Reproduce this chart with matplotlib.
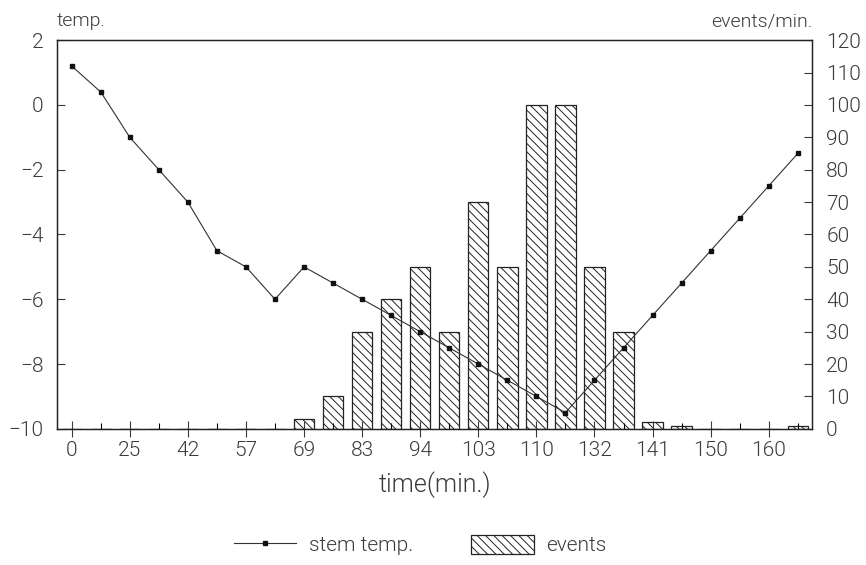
import matplotlib
matplotlib.use("Agg")
import matplotlib.pyplot as plt
import numpy as np

# x positions are evenly spaced sample steps, only every other one is labelled
tick_labels = ['0', '25', '42', '57', '69', '83', '94', '103', '110', '132', '141', '150', '160']

stem_temp = [1.2, 0.4, -1, -2, -3, -4.5, -5, -6, -5, -5.5, -6, -6.5, -7,
             -7.5, -8, -8.5, -9, -9.5, -8.5, -7.5, -6.5, -5.5, -4.5, -3.5, -2.5, -1.5]

events = [0, 0, 0, 0, 0, 0, 0, 0, 3, 10, 30, 40, 50,
          30, 70, 50, 100, 100, 50, 30, 2, 1, 0, 0, 0, 1]

plt.rcParams['font.family'] = ['Roboto', 'DejaVu Sans']
plt.rcParams['font.weight'] = 300
plt.rcParams['axes.labelweight'] = 300
plt.rcParams['hatch.linewidth'] = 0.7
txt = '#3a3a3a'

fig = plt.figure(figsize=(8.66, 5.65), dpi=100)
ax = fig.add_axes([0.066, 0.241, 0.872, 0.688])
ax2 = ax.twinx()

x = np.arange(len(stem_temp))

bars = ax2.bar(x, events, width=0.7, facecolor='white', edgecolor='#222222',
               linewidth=0.9, hatch='\\\\\\\\', label='events')
line, = ax.plot(x, stem_temp, color='#333333', linewidth=0.8, marker='s',
                markersize=2.5, markerfacecolor='#111111', markeredgecolor='#111111',
                label='stem temp.')

ax.set_zorder(ax2.get_zorder() + 1)
ax.patch.set_visible(False)

ax.set_xlim(-0.5, 25.5)
ax.set_ylim(-10, 2)
ax2.set_ylim(0, 120)

ax.set_xticks(x[::2])
ax.set_xticklabels(tick_labels)
ax.set_xticks(x[1::2], minor=True)
ax.tick_params(axis='x', which='major', direction='inout', length=12, width=0.8,
               labelsize=15, colors=txt, pad=3)
ax.tick_params(axis='x', which='minor', direction='in', length=4.5, width=0.8)

ax.set_yticks(np.arange(-10, 3, 2))
ax.tick_params(axis='y', direction='in', length=6, width=0.8, labelsize=15,
               colors=txt, pad=10)
ax2.set_yticks(np.arange(0, 121, 10))
ax2.tick_params(axis='y', direction='in', length=6, width=0.8, labelsize=15,
                colors=txt, pad=10)

for a in (ax, ax2):
    for s in a.spines.values():
        s.set_linewidth(0.9)
        s.set_color('#222222')

ax.set_xlabel('time(min.)', fontsize=18, color=txt, labelpad=8, fontweight=300)
ax.text(0.0, 1.025, 'temp.', transform=ax.transAxes, ha='left', va='bottom',
        fontsize=14, color=txt, fontweight=300)
ax.text(1.0, 1.025, 'events/min.', transform=ax.transAxes, ha='right', va='bottom',
        fontsize=14, color=txt, fontweight=300)

fig.legend(handles=[line, bars], loc='center', bbox_to_anchor=(0.485, 0.035),
           ncol=2, frameon=False, handlelength=3.0, handleheight=1.0,
           handletextpad=0.6, columnspacing=2.8, labelcolor=txt,
           prop={'weight': 300, 'size': 15})

fig.savefig('out.png', dpi=100)
